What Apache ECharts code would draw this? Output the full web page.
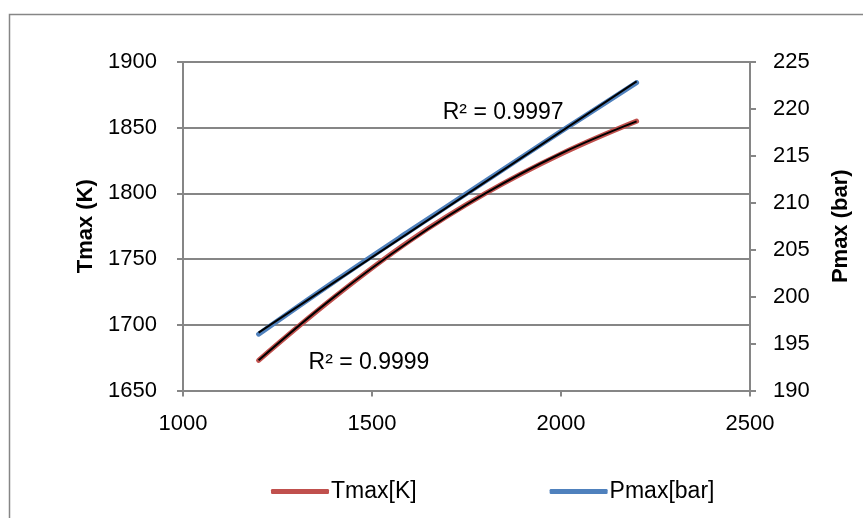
<!DOCTYPE html>
<html>
<head>
<meta charset="utf-8">
<script src="https://cdn.jsdelivr.net/npm/echarts@6/dist/echarts.min.js"></script>
<style>
  html, body { margin: 0; padding: 0; background: #fff; }
  #chart { width: 863px; height: 518px; }
</style>
</head>
<body>
<div id="chart"></div>
<script>
// Energy input (x) against peak temperature and peak pressure
const xValues = [1200, 1400, 1600, 1800, 2000, 2200];
const tmaxK = [1673, 1721, 1764, 1800, 1830, 1855];
const pmaxBar = [196.0, 201.6, 207.0, 212.3, 217.6, 222.8];

const xTicks = [1000, 1500, 2000, 2500];
const leftTicks = [1650, 1700, 1750, 1800, 1850, 1900];
const rightTicks = [190, 195, 200, 205, 210, 215, 220, 225];

const r2Tmax = 'R² = 0.9999';
const r2Pmax = 'R² = 0.9997';

// least-squares polynomial fit (order 1 or 2) through the data
function polyFit(xs, ys, order) {
  const n = order + 1;
  const A = [], b = [];
  for (let i = 0; i < n; i++) {
    A.push(new Array(n).fill(0));
    b.push(0);
  }
  const xm = xs.reduce((s, v) => s + v, 0) / xs.length;
  xs.forEach((x0, k) => {
    const x = (x0 - xm) / 100;
    for (let i = 0; i < n; i++) {
      for (let j = 0; j < n; j++) A[i][j] += Math.pow(x, i + j);
      b[i] += ys[k] * Math.pow(x, i);
    }
  });
  // gaussian elimination
  for (let i = 0; i < n; i++) {
    for (let r = i + 1; r < n; r++) {
      const f = A[r][i] / A[i][i];
      for (let c = i; c < n; c++) A[r][c] -= f * A[i][c];
      b[r] -= f * b[i];
    }
  }
  const coef = new Array(n).fill(0);
  for (let i = n - 1; i >= 0; i--) {
    let s = b[i];
    for (let c = i + 1; c < n; c++) s -= A[i][c] * coef[c];
    coef[i] = s / A[i][i];
  }
  return x0 => {
    const x = (x0 - xm) / 100;
    return coef.reduce((s, c, i) => s + c * Math.pow(x, i), 0);
  };
}

const fitT = polyFit(xValues, tmaxK, 2);
const fitP = polyFit(xValues, pmaxBar, 1);
const trendT = xValues.map(x => [x, fitT(x)]);
const trendP = [[xValues[0], fitP(xValues[0])], [xValues[xValues.length - 1], fitP(xValues[xValues.length - 1])]];

const FONT = 'Liberation Sans, Arial, sans-serif';
const AXIS_GRAY = '#868686';
const plain = v => String(v);

const chart = echarts.init(document.getElementById('chart'), null, { renderer: 'canvas' });

chart.setOption({
  animation: false,
  backgroundColor: '#ffffff',
  textStyle: { fontFamily: FONT },
  graphic: [{
    type: 'rect',
    left: 7, top: 12,
    shape: { width: 900, height: 600 },
    style: { fill: 'none', stroke: AXIS_GRAY, lineWidth: 1.5 },
    z: -1
  }],
  grid: { left: 183, right: 113, top: 62, bottom: 127.5, containLabel: false },
  legend: {
    data: ['Tmax[K]', 'Pmax[bar]'],
    left: 266, top: 475,
    itemWidth: 58, itemHeight: 5,
    itemGap: 133,
    icon: 'roundRect',
    textStyle: { fontFamily: FONT, fontSize: 23, color: '#000', padding: [0, 0, 0, -3] }
  },
  xAxis: {
    type: 'value',
    min: xTicks[0], max: xTicks[xTicks.length - 1], interval: 500,
    axisLine: { show: true, lineStyle: { color: AXIS_GRAY, width: 2 } },
    axisTick: { show: true, length: 6, lineStyle: { color: AXIS_GRAY, width: 2 } },
    splitLine: { show: false },
    axisLabel: { color: '#000', fontSize: 22, fontFamily: FONT, margin: 22, formatter: plain }
  },
  yAxis: [{
    type: 'value',
    position: 'left',
    min: leftTicks[0], max: leftTicks[leftTicks.length - 1], interval: 50,
    name: 'Tmax (K)',
    nameLocation: 'middle',
    nameGap: 79,
    nameTextStyle: { fontSize: 22, fontWeight: 'bold', color: '#000', fontFamily: FONT },
    axisLine: { show: true, lineStyle: { color: AXIS_GRAY, width: 2 } },
    axisTick: { show: true, length: 6, lineStyle: { color: AXIS_GRAY, width: 2 } },
    splitLine: { show: true, lineStyle: { color: AXIS_GRAY, width: 2 } },
    axisLabel: { color: '#000', fontSize: 22, fontFamily: FONT, margin: 26, formatter: plain }
  }, {
    type: 'value',
    position: 'right',
    min: rightTicks[0], max: rightTicks[rightTicks.length - 1], interval: 5,
    name: 'Pmax (bar)',
    nameLocation: 'middle',
    nameGap: 80,
    nameRotate: 90,
    nameTextStyle: { fontSize: 22, fontWeight: 'bold', color: '#000', fontFamily: FONT },
    axisLine: { show: true, lineStyle: { color: AXIS_GRAY, width: 2 } },
    axisTick: { show: true, length: 6, lineStyle: { color: AXIS_GRAY, width: 2 } },
    splitLine: { show: false },
    axisLabel: { color: '#000', fontSize: 22, fontFamily: FONT, margin: 23, formatter: plain }
  }],
  series: [{
    name: 'Tmax[K]',
    type: 'line',
    yAxisIndex: 0,
    data: xValues.map((x, i) => [x, tmaxK[i]]),
    smooth: 0.4,
    symbol: 'none',
    color: '#C0504D',
    lineStyle: { width: 5, color: '#C0504D', cap: 'round' },
    z: 2
  }, {
    name: 'Pmax[bar]',
    type: 'line',
    yAxisIndex: 1,
    data: xValues.map((x, i) => [x, pmaxBar[i]]),
    smooth: 0.4,
    symbol: 'none',
    color: '#4F81BD',
    lineStyle: { width: 5, color: '#4F81BD', cap: 'round' },
    z: 2
  }, {
    name: 'trend Tmax',
    type: 'line',
    yAxisIndex: 0,
    data: trendT,
    smooth: 0.4,
    symbol: 'none',
    lineStyle: { width: 2, color: '#000' },
    z: 3,
    markPoint: {
      symbol: 'circle', symbolSize: 0,
      data: [{ coord: [1492, 1671] }],
      label: {
        show: true, position: 'inside', formatter: r2Tmax,
        color: '#000', fontSize: 23, fontFamily: FONT
      }
    }
  }, {
    name: 'trend Pmax',
    type: 'line',
    yAxisIndex: 1,
    data: trendP,
    symbol: 'none',
    lineStyle: { width: 2, color: '#000' },
    z: 3,
    markPoint: {
      symbol: 'circle', symbolSize: 0,
      data: [{ coord: [1847, 219.6] }],
      label: {
        show: true, position: 'inside', formatter: r2Pmax,
        color: '#000', fontSize: 23, fontFamily: FONT
      }
    }
  }]
});
</script>
</body>
</html>
